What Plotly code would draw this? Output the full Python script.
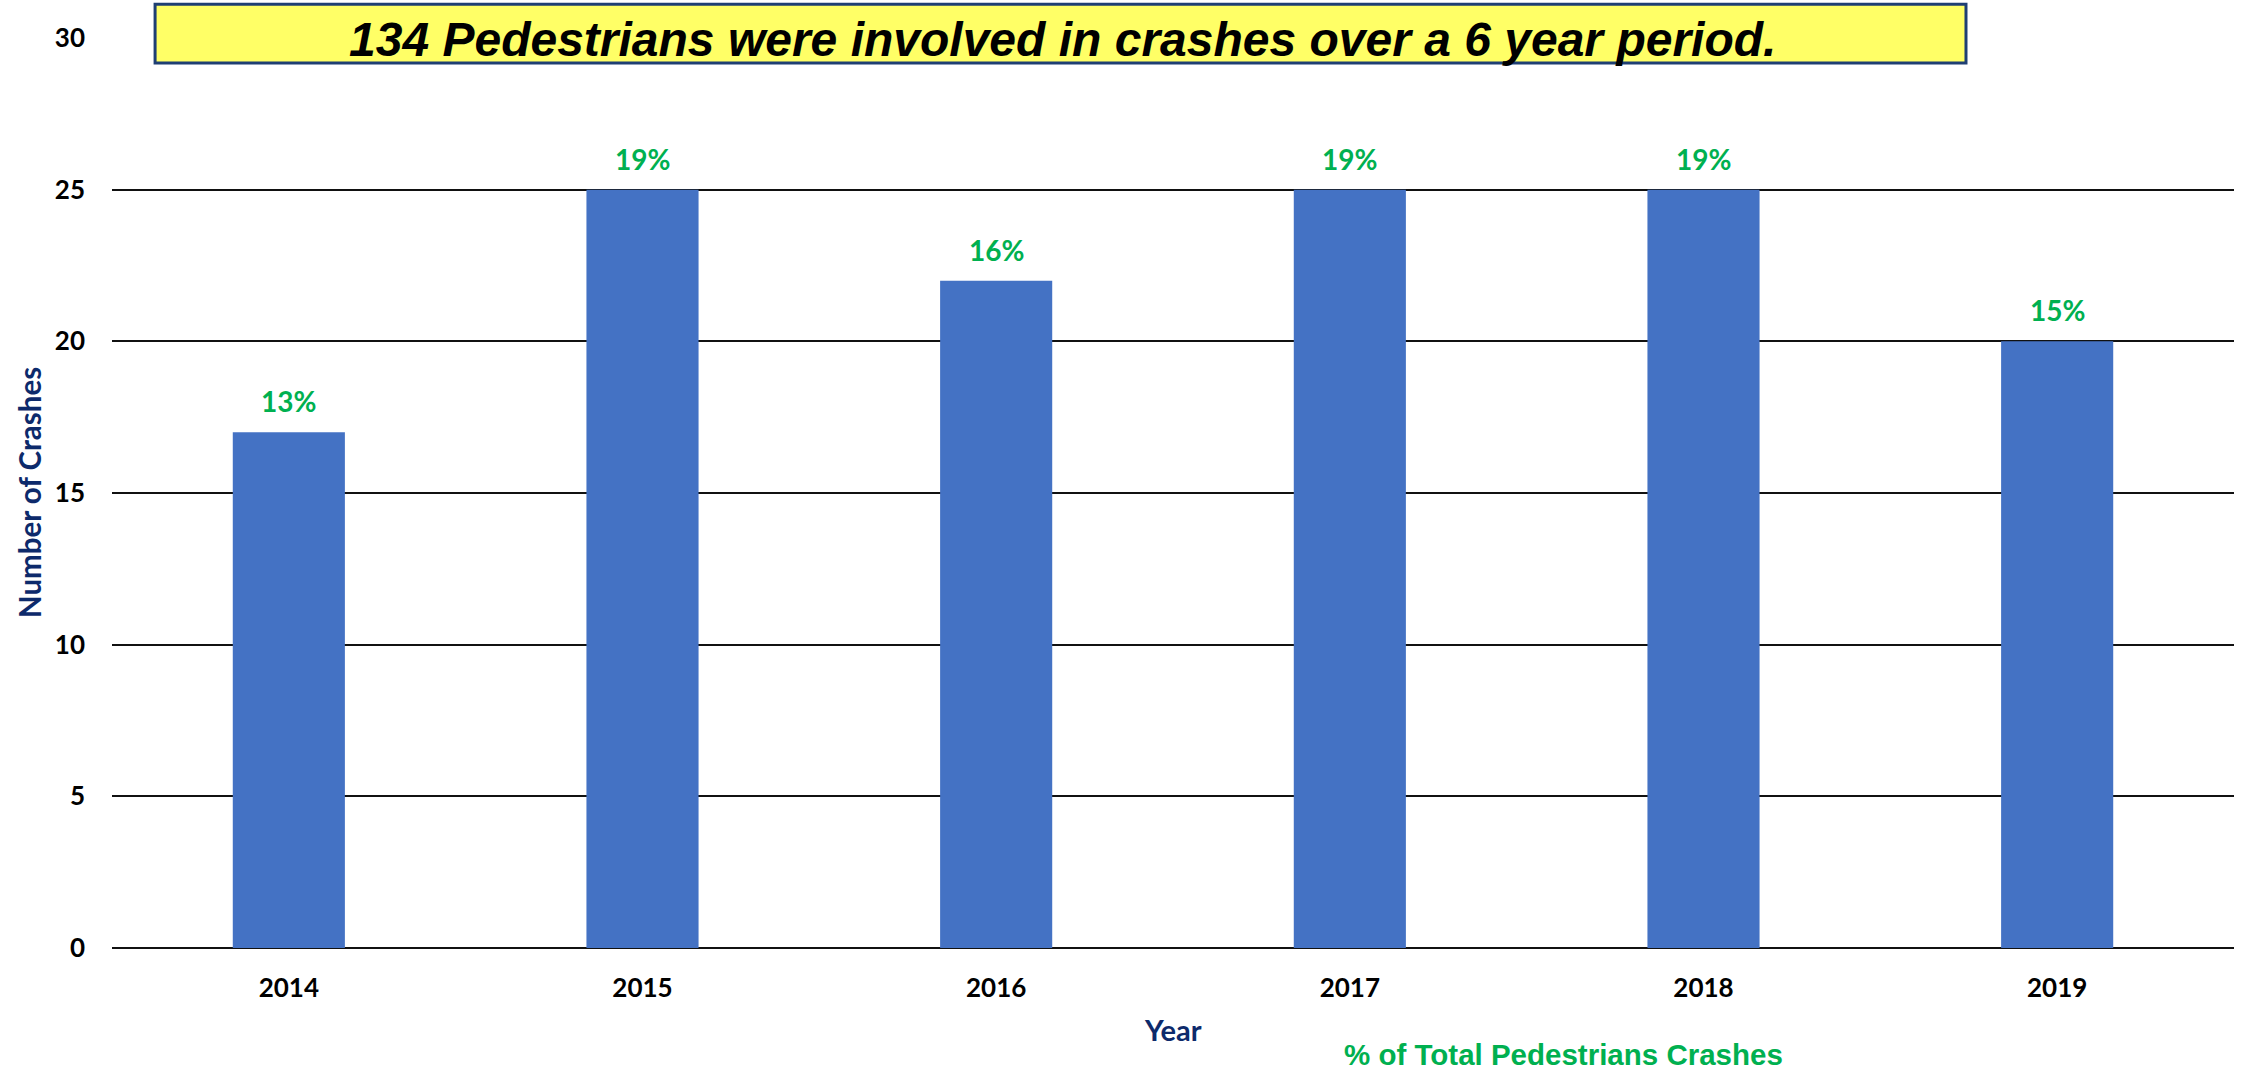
import plotly.graph_objects as go

# Pedestrian crash counts by year
years = ["2014", "2015", "2016", "2017", "2018", "2019"]
crashes = [17, 25, 22, 25, 25, 20]
total = sum(crashes)
share_labels = [f"{round(c / total * 100)}%" for c in crashes]

y_ticks = [0, 5, 10, 15, 20, 25, 30]

headline = f"{total} Pedestrians were involved in crashes over a 6 year period."
x_title = "Year"
y_title = "Number of Crashes"
share_title = "% of Total Pedestrians Crashes"

BAR = "#4472C4"
GREEN = "#00B050"
NAVY = "#0D2A6B"
LABEL_FONT = "Lato, 'Open Sans', sans-serif"
ARIAL = "'Liberation Sans', Arial, sans-serif"

fig = go.Figure(
    go.Bar(
        x=years,
        y=crashes,
        marker=dict(color=BAR, line=dict(width=0)),
        hoverinfo="x+y",
    )
)

annotations = []
# percentage of total above each bar (category axis positions by index)
for i, (c, lab) in enumerate(zip(crashes, share_labels)):
    annotations.append(dict(
        x=i, y=c, xref="x", yref="y", text=f"<b>{lab}</b>",
        showarrow=False, yanchor="bottom", yshift=12,
        font=dict(family=LABEL_FONT, size=28, color=GREEN),
    ))

# axis titles
annotations.append(dict(
    x=0.5, y=-0.0901, xref="paper", yref="paper", text=f"<b>{x_title}</b>",
    showarrow=False, xanchor="center", yanchor="middle",
    font=dict(family=LABEL_FONT, size=29, color=NAVY),
))
annotations.append(dict(
    x=-0.0391, y=0.5, xref="paper", yref="paper", text=f"<b>{y_title}</b>",
    showarrow=False, xanchor="center", yanchor="middle", textangle=-90,
    font=dict(family=LABEL_FONT, size=29.5, color=NAVY),
))
annotations.append(dict(
    x=0.6838, y=-0.1175, xref="paper", yref="paper", text=f"<b>{share_title}</b>",
    showarrow=False, xanchor="center", yanchor="middle",
    font=dict(family=ARIAL, size=29.5, color=GREEN),
))
# headline inside the yellow banner
annotations.append(dict(
    x=0.4479, y=0.9985, xref="paper", yref="paper", text=f"<b><i>{headline}</i></b>",
    showarrow=False, xanchor="center", yanchor="middle",
    font=dict(family=ARIAL, size=48, color="#000000"),
))

shapes = [dict(
    type="rect", xref="paper", yref="paper",
    x0=0.0203, x1=0.8737, y0=0.9725, y1=1.0370,
    fillcolor="#FFFF66", line=dict(color="#1F3F73", width=3), layer="above",
)]

fig.update_layout(
    width=2250, height=1071,
    margin=dict(l=112, r=16, t=38, b=123),
    paper_bgcolor="white", plot_bgcolor="white",
    bargap=0.683,
    showlegend=False,
    annotations=annotations,
    shapes=shapes,
    xaxis=dict(
        type="category",
        showgrid=False, showline=False, ticks="",
        tickfont=dict(family=LABEL_FONT, size=26, color="#000000", weight="bold"),
        ticklabelstandoff=22,
    ),
    yaxis=dict(
        range=[0, 30], tickvals=y_ticks, ticks="",
        showgrid=True, gridcolor="#111111", gridwidth=2,
        zeroline=True, zerolinecolor="#111111", zerolinewidth=2,
        showline=False,
        tickfont=dict(family=LABEL_FONT, size=26, color="#000000", weight="bold"),
        ticklabelstandoff=26,
    ),
)

fig.write_html("out.html")
